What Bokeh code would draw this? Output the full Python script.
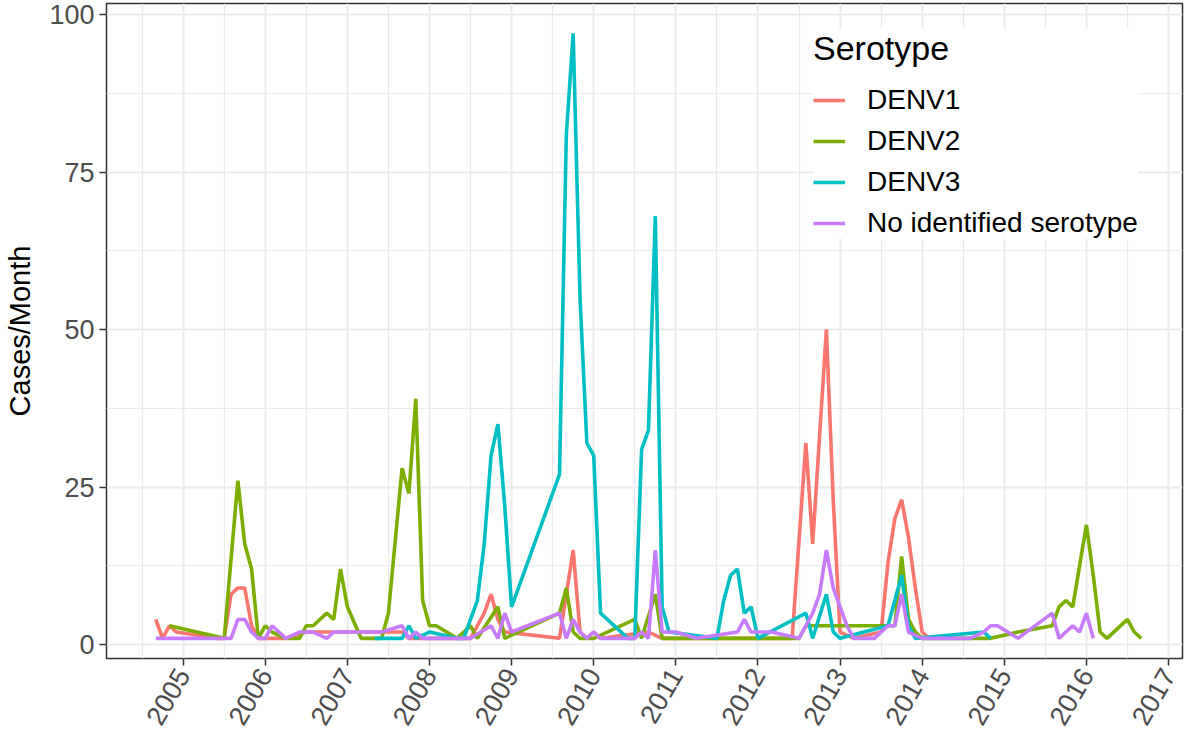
import math
from bokeh.plotting import figure
from bokeh.models import FixedTicker, Range1d, Legend, LegendItem
from bokeh.embed import file_html
from bokeh.resources import INLINE

# ---------------- data (month "YYYY-MM", cases per month) ----------------
denv1_months = ["2004-09", "2004-10", "2004-11", "2004-12", "2005-06", "2005-07", "2005-08", "2005-09",
                "2005-10", "2005-11", "2005-12", "2006-04", "2006-07", "2007-06", "2007-09", "2007-10",
                "2008-07", "2008-08", "2008-09", "2008-10", "2008-11", "2008-12", "2009-08", "2009-10",
                "2009-11", "2009-12", "2010-01", "2010-02", "2010-09", "2010-11", "2012-06", "2012-08",
                "2012-09", "2012-11", "2012-12", "2013-01", "2013-03", "2013-07", "2013-08", "2013-09",
                "2013-10", "2013-11", "2013-12", "2014-01", "2014-02"]
denv1_cases = [4, 1, 3, 2, 1, 1, 8, 9,
               9, 3, 1, 1, 2, 2, 2, 1,
               1, 3, 5, 8, 4, 2, 1, 15,
               2, 1, 2, 1, 2, 1, 1, 32,
               16, 50, 23, 2, 1, 2, 13, 20,
               23, 17, 9, 2, 1]

denv2_months = ["2004-11", "2005-07", "2005-09", "2005-10", "2005-11", "2005-12", "2006-01", "2006-02",
                "2006-04", "2006-06", "2006-07", "2006-08", "2006-10", "2006-11", "2006-12", "2007-01",
                "2007-03", "2007-06", "2007-07", "2007-09", "2007-10", "2007-11", "2007-12", "2008-01",
                "2008-02", "2008-05", "2008-07", "2008-08", "2008-11", "2008-12", "2009-08", "2009-09",
                "2009-10", "2009-11", "2010-01", "2010-07", "2010-08", "2010-10", "2010-11", "2012-07",
                "2012-08", "2013-07", "2013-09", "2013-10", "2013-11", "2013-12", "2014-01", "2014-11",
                "2015-03", "2015-08", "2015-09", "2015-10", "2015-11", "2016-01", "2016-02", "2016-03",
                "2016-04", "2016-07", "2016-08", "2016-09"]
denv2_cases = [3, 1, 26, 16, 12, 1, 3, 2,
               1, 1, 3, 3, 5, 4, 12, 6,
               1, 1, 5, 28, 24, 39, 7, 3,
               3, 1, 3, 1, 6, 1, 5, 9,
               2, 1, 1, 4, 1, 8, 1, 1,
               3, 3, 3, 14, 4, 2, 1, 1,
               2, 3, 6, 7, 6, 19, 11, 2,
               1, 4, 2, 1]

denv3_months = ["2007-05", "2007-09", "2007-10", "2007-11", "2008-01", "2008-05", "2008-06", "2008-07",
                "2008-08", "2008-09", "2008-10", "2008-11", "2008-12", "2009-01", "2009-08", "2009-09",
                "2009-10", "2009-11", "2009-12", "2010-01", "2010-02", "2010-06", "2010-07", "2010-08",
                "2010-09", "2010-10", "2010-11", "2010-12", "2011-07", "2011-08", "2011-09", "2011-10",
                "2011-11", "2011-12", "2012-01", "2012-08", "2012-09", "2012-11", "2012-12", "2013-01",
                "2013-08", "2013-09", "2013-10", "2013-11", "2013-12", "2014-10", "2014-11"]
denv3_cases = [1, 1, 3, 1, 2, 1, 1, 4,
               7, 16, 30, 35, 22, 6, 27, 81,
               97, 55, 32, 30, 5, 1, 1, 31,
               34, 68, 6, 2, 1, 7, 11, 12,
               5, 6, 1, 5, 1, 8, 2, 1,
               3, 7, 11, 3, 1, 2, 1]

noid_months = ["2004-09", "2005-08", "2005-09", "2005-10", "2005-11", "2005-12", "2006-01", "2006-02",
               "2006-04", "2006-06", "2006-08", "2006-10", "2006-11", "2007-06", "2007-09", "2007-10",
               "2007-11", "2007-12", "2008-07", "2008-10", "2008-11", "2008-12", "2009-01", "2009-08",
               "2009-09", "2009-10", "2009-11", "2009-12", "2010-01", "2010-02", "2010-07", "2010-08",
               "2010-09", "2010-10", "2010-11", "2011-01", "2011-04", "2011-10", "2011-11", "2011-12",
               "2012-03", "2012-07", "2012-08", "2012-09", "2012-10", "2012-11", "2012-12", "2013-01",
               "2013-02", "2013-03", "2013-06", "2013-08", "2013-09", "2013-10", "2013-11", "2014-01",
               "2014-08", "2014-10", "2014-11", "2014-12", "2015-03", "2015-08", "2015-09", "2015-10",
               "2015-11", "2015-12", "2016-01", "2016-02"]
noid_cases = [1, 1, 4, 4, 2, 1, 1, 3,
              1, 2, 2, 1, 2, 2, 3, 1,
              2, 1, 1, 3, 1, 5, 2, 5,
              1, 4, 2, 1, 2, 1, 1, 2,
              1, 15, 2, 2, 1, 2, 4, 2,
              2, 1, 3, 5, 8, 15, 9, 6,
              3, 1, 1, 3, 3, 8, 2, 1,
              1, 2, 3, 3, 1, 5, 1, 2,
              3, 2, 5, 1]

series_names = ["DENV1", "DENV2", "DENV3", "No identified serotype"]
series_colors = ["#F8766D", "#7CAE00", "#00BFC4", "#C77CFF"]
year_ticks = list(range(2005, 2018))
year_labels = [str(y) for y in year_ticks]
y_ticks = [0, 25, 50, 75, 100]
x_limits = (2004.067, 2017.17)
y_limits = (-2.2, 101.75)

FONT = "Liberation Sans"


def to_year(s):
    y, m = s.split("-")
    return int(y) + (int(m) - 1) / 12.0


all_series = [(denv1_months, denv1_cases), (denv2_months, denv2_cases),
              (denv3_months, denv3_cases), (noid_months, noid_cases)]

p = figure(width=1184, height=735, output_backend="svg", toolbar_location=None,
           x_range=Range1d(*x_limits), y_range=Range1d(*y_limits),
           min_border_left=106, min_border_right=2, min_border_top=3, min_border_bottom=60)

p.background_fill_color = "white"
p.border_fill_color = "white"
p.outline_line_color = "#333333"
p.outline_line_width = 1.5
p.outline_line_alpha = 1.0

renderers = []
for (ms, vs), color in zip(all_series, series_colors):
    r = p.line([to_year(m) for m in ms], vs, line_color=color, line_width=3.6)
    renderers.append(r)

# axes
p.xaxis.ticker = FixedTicker(ticks=year_ticks, minor_ticks=[y + 0.5 for y in range(2004, 2017)])
p.xaxis.major_label_overrides = {t: l for t, l in zip(year_ticks, year_labels)}
p.xaxis.major_label_orientation = math.pi / 3
p.yaxis.ticker = FixedTicker(ticks=y_ticks, minor_ticks=[12.5, 37.5, 62.5, 87.5])
p.yaxis.axis_label = "Cases/Month"

for ax in (p.xaxis, p.yaxis):
    ax.axis_line_color = None
    ax.major_tick_line_color = "#333333"
    ax.major_tick_line_width = 1.5
    ax.major_tick_out = 7
    ax.major_tick_in = 0
    ax.minor_tick_line_color = None
    ax.major_label_text_color = "#4D4D4D"
    ax.major_label_text_font = FONT
    ax.major_label_text_font_size = "27px"
    ax.major_label_standoff = 5

p.yaxis.axis_label_text_font = FONT
p.yaxis.axis_label_text_font_size = "29px"
p.yaxis.axis_label_text_font_style = "normal"
p.yaxis.axis_label_text_color = "black"
p.yaxis.axis_label_standoff = 10

for g in (p.xgrid, p.ygrid):
    g.grid_line_color = "#EBEBEB"
    g.grid_line_width = 2
    g.minor_grid_line_color = "#EBEBEB"
    g.minor_grid_line_width = 1.2

items = [LegendItem(label=n, renderers=[r]) for n, r in zip(series_names, renderers)]
legend = Legend(items=items, location=(707, 419), title="Serotype",
                title_text_font=FONT, title_text_font_size="34px", title_text_font_style="normal",
                title_text_color="black", title_standoff=16,
                label_text_font=FONT, label_text_font_size="28px", label_text_color="black",
                glyph_width=32, glyph_height=20, label_standoff=22, label_height=32,
                spacing=9, padding=18, margin=0,
                background_fill_color="white", background_fill_alpha=1.0,
                border_line_color=None)
p.add_layout(legend)

open("out.html", "w").write(file_html(p, INLINE))
